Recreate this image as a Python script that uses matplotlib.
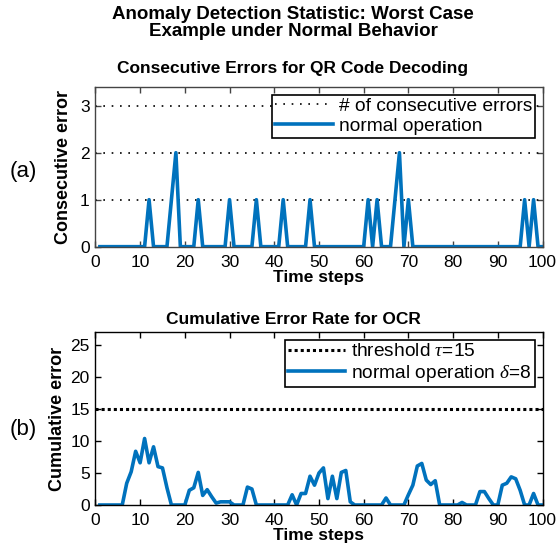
import matplotlib
matplotlib.use("Agg")
import matplotlib.pyplot as plt
import numpy as np

plt.rcParams['font.family'] = ['Liberation Sans', 'DejaVu Sans']
plt.rcParams['mathtext.fontset'] = 'custom'
plt.rcParams['mathtext.it'] = 'Liberation Serif:italic'

# time steps 1..100
steps = list(range(1, 101))

# consecutive errors for QR code decoding (nonzero steps only)
qr_err_steps = [12, 17, 18, 23, 30, 36, 42, 48, 61, 63, 67, 68, 70, 96, 98]
qr_err_vals = [1, 1, 2, 1, 1, 1, 1, 1, 1, 1, 1, 2, 1, 1, 1]
qr_levels = [1, 2, 3]

# cumulative error rate for OCR
ocr_vals = [0, 0, 0, 0, 0, 0, 3.4, 5.2, 8.4, 6.6,
            10.4, 6.6, 9.1, 6.0, 5.8, 2.7, 0, 0, 0, 0,
            2.3, 2.7, 5.1, 1.5, 2.4, 1.3, 0.3, 0.5, 0.5, 0.5,
            0, 0, 0, 2.8, 2.5, 0, 0, 0, 0, 0,
            0, 0, 0, 1.6, 0, 1.8, 1.8, 4.5, 3.1, 5.0,
            5.8, 1.0, 4.5, 1.0, 5.1, 5.4, 0.5, 0, 0, 0,
            0, 0, 0, 0, 1.1, 0, 0, 0, 0, 1.6,
            3.1, 6.1, 6.5, 3.9, 3.2, 3.8, 0, 0, 0, 0,
            0, 0.4, 0, 0, 0, 2.1, 2.1, 1.0, 0, 0,
            3.1, 3.4, 4.4, 4.1, 2.3, 0, 0, 1.8, 0, 0]
threshold = 15

qr_vals = [0] * len(steps)
for s, v in zip(qr_err_steps, qr_err_vals):
    qr_vals[s - 1] = v

blue = '#0072BD'

fig = plt.figure(figsize=(5.57, 5.5), dpi=100)
ax1 = fig.add_axes([0.1713, 0.5515, 0.8027, 0.2904])
ax2 = fig.add_axes([0.1713, 0.0818, 0.8027, 0.314])
title_x = 0.442


def style(ax, col):
    for sp in ax.spines.values():
        sp.set_color(col)
        sp.set_linewidth(1.0)
    ax.tick_params(direction='in', top=True, right=True, labelsize=12.5,
                   color=col, length=4, width=1.0, pad=4)
    ax.tick_params(axis='x', pad=6)
    ax.set_xlim(0, 100)
    ax.set_xticks(range(0, 101, 10))


def legend(ax):
    leg = ax.legend(loc='upper right', fontsize=13.8, frameon=True, fancybox=False,
                    edgecolor='black', framealpha=1, handlelength=3,
                    borderpad=0.15, labelspacing=0.15, handletextpad=0.3,
                    borderaxespad=0.4)
    leg.get_frame().set_linewidth(1.2)


# (a)
first = True
for lv in qr_levels:
    ax1.plot([0, 100], [lv, lv], color='black', linestyle=(0, (1, 4)), linewidth=1.2,
             label='# of consecutive errors' if first else None)
    first = False
ax1.plot(steps, qr_vals, color=blue, linewidth=2.6, label='normal operation')
ax1.set_ylim(0, 3.4)
ax1.set_yticks([0, 1, 2, 3])
style(ax1, '#444444')
ax1.set_title('Consecutive Errors for QR Code Decoding', fontsize=12.5,
              fontweight='bold', pad=10, x=title_x)
ax1.set_xlabel('Time steps', fontsize=12.5, fontweight='bold', labelpad=0)
ax1.set_ylabel('Consecutive error', fontsize=13, fontweight='bold', labelpad=6)
legend(ax1)

# (b)
ax2.plot([0, 100], [threshold, threshold], color='black', linestyle=(0, (1, 1)),
         linewidth=2.2, label=r'threshold $\tau$=15')
ax2.plot(steps, ocr_vals, color=blue, linewidth=2.6,
         label=r'normal operation $\delta$=8')
ax2.set_ylim(0, 27)
ax2.set_yticks(range(0, 26, 5))
style(ax2, 'black')
ax2.set_title('Cumulative Error Rate for OCR', fontsize=12.5,
              fontweight='bold', pad=6, x=title_x)
ax2.set_xlabel('Time steps', fontsize=12.5, fontweight='bold', labelpad=0)
ax2.set_ylabel('Cumulative error', fontsize=13, fontweight='bold', labelpad=3)
legend(ax2)

fig.text(293 / 557, 1 - 23 / 550, 'Anomaly Detection Statistic: Worst Case\nExample under Normal Behavior',
         ha='center', va='center', fontsize=13.5, fontweight='bold', linespacing=0.95)
fig.text(0.041, 1 - 172 / 550, '(a)', ha='center', va='center', fontsize=16)
fig.text(0.041, 1 - 430 / 550, '(b)', ha='center', va='center', fontsize=16)

fig.savefig('out.png', dpi=100)
